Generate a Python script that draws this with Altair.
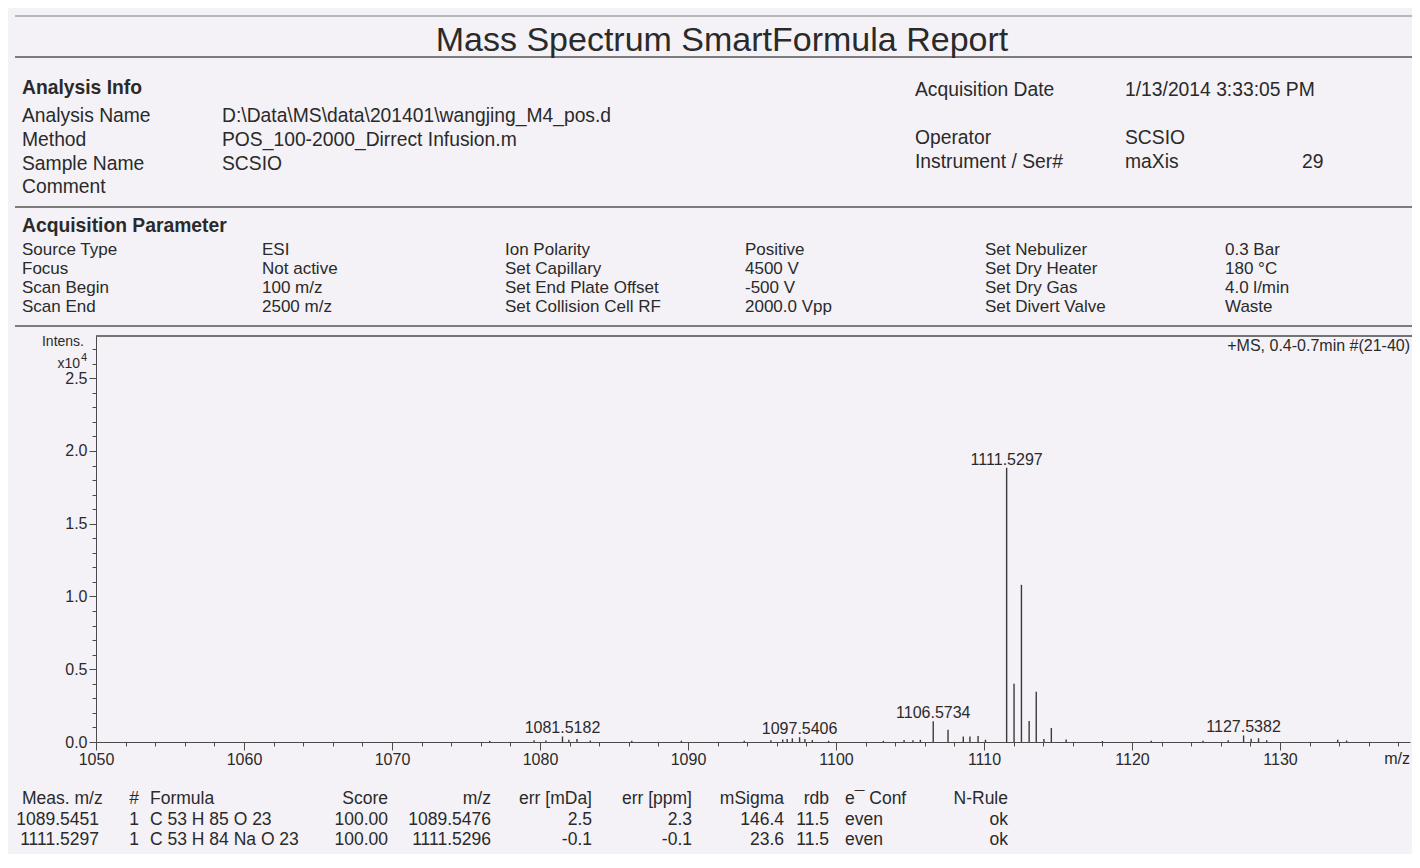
import altair as alt
import pandas as pd

# ---------------- data ----------------
title_text = "Mass Spectrum SmartFormula Report"

analysis_labels = ["Analysis Name", "Method", "Sample Name", "Comment"]
analysis_values = [r"D:\Data\MS\data\201401\wangjing_M4_pos.d",
                   "POS_100-2000_Dirrect Infusion.m", "SCSIO"]
acq_date_label = "Acquisition Date"
acq_date_value = "1/13/2014 3:33:05 PM"
operator_labels = ["Operator", "Instrument / Ser#"]
operator_values = ["SCSIO", "maXis"]
serial_no = "29"

param_names_1 = ["Source Type", "Focus", "Scan Begin", "Scan End"]
param_values_1 = ["ESI", "Not active", "100 m/z", "2500 m/z"]
param_names_2 = ["Ion Polarity", "Set Capillary", "Set End Plate Offset", "Set Collision Cell RF"]
param_values_2 = ["Positive", "4500 V", "-500 V", "2000.0 Vpp"]
param_names_3 = ["Set Nebulizer", "Set Dry Heater", "Set Dry Gas", "Set Divert Valve"]
param_values_3 = ["0.3 Bar", "180 °C", "4.0 l/min", "Waste"]

# spectrum peaks (m/z, intensity in counts)
peak_mz = [1076.6, 1079.6, 1080.4, 1081.52, 1081.95, 1082.5, 1083.4, 1086.2, 1089.55,
           1093.8, 1095.6, 1096.4, 1096.7, 1097.05, 1097.54, 1097.9, 1098.4, 1099.5,
           1103.2, 1104.6, 1105.2, 1105.7, 1106.57, 1107.57, 1108.6, 1109.05, 1109.6,
           1110.1, 1111.53, 1112.03, 1112.53, 1113.05, 1113.53, 1114.05, 1114.55,
           1115.55, 1118.0, 1121.3, 1124.8, 1126.5, 1127.54, 1128.05, 1128.55, 1129.1,
           1133.9, 1134.5]
peak_int = [80, 120, 100, 380, 150, 200, 100, 80, 90,
            80, 120, 180, 200, 250, 330, 200, 130, 80,
            80, 130, 120, 150, 1420, 840, 380, 380, 420,
            150, 18850, 4000, 10800, 1450, 3450, 200, 960,
            180, 70, 80, 90, 120, 450, 220, 260, 120,
            160, 100]

label_mz = [1081.5182, 1097.5406, 1106.5734, 1111.5297, 1127.5382]
label_int = [380, 330, 1420, 18850, 450]
label_text = ["1081.5182", "1097.5406", "1106.5734", "1111.5297", "1127.5382"]

x_ticks = list(range(1050, 1140, 2))
y_ticks = list(range(0, 28000, 1000))

spectrum_note = "+MS, 0.4-0.7min #(21-40)"

# results table
tbl_meas_mz = ["1089.5451", "1111.5297"]
tbl_hit = ["1", "1"]
tbl_formula = ["C 53 H 85 O 23", "C 53 H 84 Na O 23"]
tbl_score = ["100.00", "100.00"]
tbl_mz = ["1089.5476", "1111.5296"]
tbl_err_mda = ["2.5", "-0.1"]
tbl_err_ppm = ["2.3", "-0.1"]
tbl_msigma = ["146.4", "23.6"]
tbl_rdb = ["11.5", "11.5"]
tbl_econf = ["even", "even"]
tbl_nrule = ["ok", "ok"]

# ---------------- styling / layout ----------------
FONT = "Liberation Sans"
TXT = "#2a2a2a"
LINE = "#7c7c7c"
AX = "#4a4a4a"
BG = "#f4f2f7"
OX, OY = 96, 336          # plot origin on the page
W, H = 1314, 406
PX_PER_MZ = 14.8
RIGHT = OX + W + 2        # right edge of the drawing on the page

one = pd.DataFrame({"a": [0]})


def txt(text, px, py, size=19, align="left", weight="normal", lh=None):
    kw = dict(text=text, align=align, baseline="top", fontSize=size, fontWeight=weight,
              font=FONT, color=TXT, lineBreak="\n")
    if lh is not None:
        kw["lineHeight"] = lh
    return alt.Chart(one).mark_text(**kw).encode(
        x=alt.value(px - OX), y=alt.value(py - OY - 0.43 * size))


def hline(py, x0=15, x1=RIGHT, w=1.5, color=LINE):
    return alt.Chart(one).mark_rule(color=color, strokeWidth=w).encode(
        x=alt.value(x0 - OX), x2=alt.value(x1 - OX), y=alt.value(py - OY))


TS = 17.5    # table font size
TLH = 20.5   # table line height


def col(header, values, px, align):
    return txt("\n".join([header] + values), px, 798, size=TS, align=align, lh=TLH)


layers = []
# header lines and title
layers += [hline(16, w=1.2), hline(57, w=2), hline(207, w=2), hline(326, w=2)]
layers.append(txt(title_text, 722, 39, size=34, align="center"))

# analysis info
HS = 19.3
layers.append(txt("Analysis Info", 22, 87, size=HS, weight="bold"))
layers.append(txt("\n".join(analysis_labels), 22, 115.5, size=HS, lh=23.7))
layers.append(txt("\n".join(analysis_values), 222, 115.5, size=HS, lh=23.7))
layers.append(txt(acq_date_label, 915, 89, size=HS))
layers.append(txt(acq_date_value, 1125, 89, size=HS))
layers.append(txt("\n".join(operator_labels), 915, 137.5, size=HS, lh=24))
layers.append(txt("\n".join(operator_values), 1125, 137.5, size=HS, lh=24))
layers.append(txt(serial_no, 1302, 161.5, size=HS))

# acquisition parameters
layers.append(txt("Acquisition Parameter", 22, 225, size=HS, weight="bold"))
for cx, items in [(22, param_names_1), (262, param_values_1), (505, param_names_2),
                  (745, param_values_2), (985, param_names_3), (1225, param_values_3)]:
    layers.append(txt("\n".join(items), cx, 249, size=17, lh=19))

# spectrum
spec_df = pd.DataFrame({"mz": peak_mz, "intensity": peak_int})
xscale = alt.Scale(domain=[1050, 1050 + W / PX_PER_MZ], nice=False, zero=False)
yscale = alt.Scale(domain=[0, 27900], nice=False)

x_axis = alt.Axis(values=x_ticks, tickCount=500, format="d", title=None, grid=False,
                  labelExpr="datum.value % 10 === 0 ? datum.label : ''",
                  tickSize={"condition": {"test": "datum.value % 10 === 0", "value": 8}, "value": 4},
                  labelFont=FONT, labelFontSize=16, labelColor=TXT, labelPadding=1,
                  domainColor=AX, tickColor=AX, labelFlush=False, labelOverlap=False)
y_axis = alt.Axis(values=y_ticks, tickCount=500, title=None, grid=False,
                  labelExpr="datum.value % 5000 === 0 ? format(datum.value / 10000, '.1f') : ''",
                  tickSize={"condition": {"test": "datum.value % 5000 === 0", "value": 7}, "value": 4},
                  labelFont=FONT, labelFontSize=16, labelColor=TXT, labelPadding=2,
                  domainColor=AX, tickColor=AX, labelFlush=False, labelOverlap=False)

spectrum = alt.Chart(spec_df).mark_rule(color="#3a3a3a", strokeWidth=1.4).encode(
    x=alt.X("mz:Q", scale=xscale, axis=x_axis),
    y=alt.Y("intensity:Q", scale=yscale, axis=y_axis),
    y2=alt.datum(0),
)
layers.append(spectrum)

lab_df = pd.DataFrame({"mz": label_mz, "intensity": label_int, "label": label_text})
layers.append(alt.Chart(lab_df).mark_text(baseline="alphabetic", align="center", dy=-3,
                                          fontSize=16, font=FONT, color=TXT).encode(
    x=alt.X("mz:Q", scale=xscale), y=alt.Y("intensity:Q", scale=yscale), text="label:N"))

# plot frame top line
layers.append(hline(OY, x0=OX, x1=RIGHT, w=1.3, color=AX))

# axis annotations
layers.append(txt("Intens.", 84, 341, size=14, align="right"))
layers.append(txt("x10", 80, 363, size=14, align="right"))
layers.append(txt("4", 81, 357, size=11, align="left"))
layers.append(txt(spectrum_note, RIGHT - 2, 345, size=16, align="right"))
layers.append(txt("m/z", RIGHT - 2, 758, size=16, align="right"))

# results table
layers.append(txt("Meas. m/z", 22, 798, size=TS))
layers.append(col(" ", tbl_meas_mz, 99, "right"))
layers.append(col("#", tbl_hit, 134, "center"))
layers.append(col("Formula", tbl_formula, 150, "left"))
layers.append(col("Score", tbl_score, 388, "right"))
layers.append(col("m/z", tbl_mz, 491, "right"))
layers.append(col("err [mDa]", tbl_err_mda, 592, "right"))
layers.append(col("err [ppm]", tbl_err_ppm, 692, "right"))
layers.append(col("mSigma", tbl_msigma, 784, "right"))
layers.append(col("rdb", tbl_rdb, 829, "right"))
layers.append(col("e¯ Conf", tbl_econf, 845, "left"))
layers.append(col("N-Rule", tbl_nrule, 1008, "right"))

chart = alt.layer(*layers).properties(
    width=W, height=H,
    autosize=alt.AutoSizeParams(type="none"),
    padding={"left": OX - 8, "top": OY - 8, "right": 2, "bottom": 112},
    background=BG,
).configure_view(stroke=None)

chart.save("out.html", embed_options={"renderer": "svg", "actions": False})
